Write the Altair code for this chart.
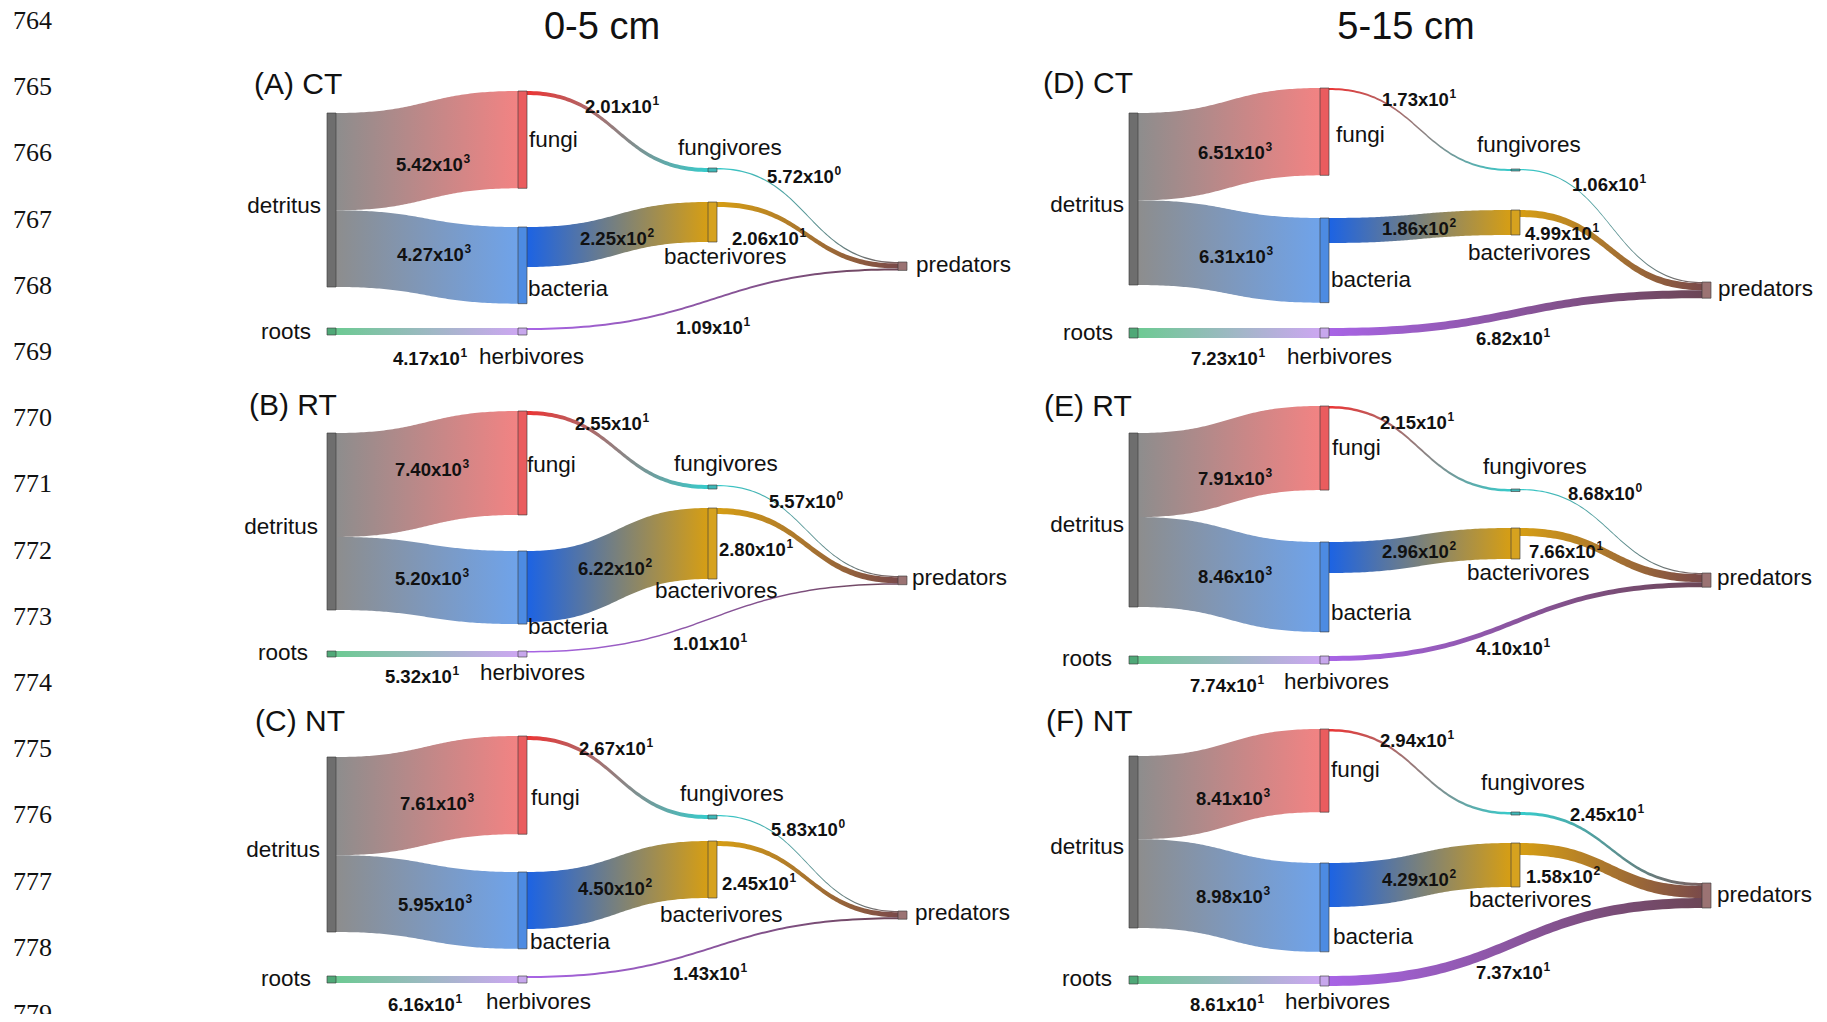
import numpy as np
import pandas as pd
import altair as alt

# ---------------- data ----------------
panel_ids = ["A", "B", "C", "D", "E", "F"]
panel_titles = ["(A) CT", "(B) RT", "(C) NT", "(D) CT", "(E) RT", "(F) NT"]
depth_titles = ["0-5 cm", "5-15 cm"]
line_numbers = [str(n) for n in range(764, 780)]

node_names = ["detritus", "fungi", "bacteria", "fungivores", "bacterivores",
              "predators", "roots", "herbivores"]
link_source = ["detritus", "detritus", "fungi", "bacteria", "fungivores",
               "bacterivores", "roots", "herbivores"]
link_target = ["fungi", "bacteria", "fungivores", "bacterivores", "predators",
               "predators", "herbivores", "predators"]

flows_A = [5.42e3, 4.27e3, 2.01e1, 2.25e2, 5.72e0, 2.06e1, 4.17e1, 1.09e1]
flows_B = [7.40e3, 5.20e3, 2.55e1, 6.22e2, 5.57e0, 2.80e1, 5.32e1, 1.01e1]
flows_C = [7.61e3, 5.95e3, 2.67e1, 4.50e2, 5.83e0, 2.45e1, 6.16e1, 1.43e1]
flows_D = [6.51e3, 6.31e3, 1.73e1, 1.86e2, 1.06e1, 4.99e1, 7.23e1, 6.82e1]
flows_E = [7.91e3, 8.46e3, 2.15e1, 2.96e2, 8.68e0, 7.66e1, 7.74e1, 4.10e1]
flows_F = [8.41e3, 8.98e3, 2.94e1, 4.29e2, 2.45e1, 1.58e2, 8.61e1, 7.37e1]
flows = dict(zip(panel_ids, [flows_A, flows_B, flows_C, flows_D, flows_E, flows_F]))

# ---------------- layout (page pixels of the reference) ----------------
node_column = {"detritus": 0, "roots": 0, "fungi": 1, "bacteria": 1, "herbivores": 1,
               "fungivores": 2, "bacterivores": 2, "predators": 3}
column_x = {"left": [327, 518, 708, 898], "right": [1129, 1320, 1511, 1702]}
panel_side = {"A": "left", "B": "left", "C": "left", "D": "right", "E": "right", "F": "right"}
node_width = 9
detritus_height = {"A": 174, "B": 177, "C": 175, "D": 172, "E": 174, "F": 172}
node_top = {
    "A": {"detritus": 113, "fungi": 91, "bacteria": 227, "fungivores": 168, "bacterivores": 202,
          "predators": 262, "roots": 328, "herbivores": 328},
    "B": {"detritus": 433, "fungi": 411, "bacteria": 551, "fungivores": 485, "bacterivores": 508,
          "predators": 576, "roots": 651, "herbivores": 651},
    "C": {"detritus": 757, "fungi": 736, "bacteria": 872, "fungivores": 815, "bacterivores": 841,
          "predators": 911, "roots": 976, "herbivores": 976},
    "D": {"detritus": 113, "fungi": 88, "bacteria": 218, "fungivores": 169, "bacterivores": 210,
          "predators": 282, "roots": 328, "herbivores": 328},
    "E": {"detritus": 433, "fungi": 406, "bacteria": 542, "fungivores": 489, "bacterivores": 528,
          "predators": 573, "roots": 656, "herbivores": 656},
    "F": {"detritus": 756, "fungi": 729, "bacteria": 863, "fungivores": 812, "bacterivores": 843,
          "predators": 883, "roots": 976, "herbivores": 976},
}
# drawn band thickness of links 3..8 (the figure does not use one linear scale)
minor_band = {
    "A": [4, 40, 1.4, 5, 7, 2],
    "B": [4, 71, 1.2, 6, 6, 1.5],
    "C": [4, 57, 1.2, 5, 7, 2],
    "D": [2, 25, 1.2, 7, 10, 8],
    "E": [2.5, 31, 1.2, 8, 8, 5],
    "F": [2.5, 44, 3, 12, 8, 10],
}
# label anchors
node_label_pos = {
    "A": [(321, 206), (529, 140), (528, 289), (678, 148), (664, 257), (916, 265), (311, 332), (479, 357)],
    "B": [(318, 527), (527, 465), (528, 627), (674, 464), (655, 591), (912, 578), (308, 653), (480, 673)],
    "C": [(320, 850), (531, 798), (530, 942), (680, 794), (660, 915), (915, 913), (311, 979), (486, 1002)],
    "D": [(1124, 205), (1336, 135), (1331, 280), (1477, 145), (1468, 253), (1718, 289), (1113, 333), (1287, 357)],
    "E": [(1124, 525), (1332, 448), (1331, 613), (1483, 467), (1467, 573), (1717, 578), (1112, 659), (1284, 682)],
    "F": [(1124, 847), (1331, 770), (1333, 937), (1481, 783), (1469, 900), (1717, 895), (1112, 979), (1285, 1002)],
}
value_label_pos = {
    "A": [(433, 163), (434, 253), (622, 105), (617, 237), (804, 175), (769, 237), (430, 357), (713, 326)],
    "B": [(432, 468), (432, 577), (612, 422), (615, 567), (806, 500), (756, 548), (422, 675), (710, 642)],
    "C": [(437, 802), (435, 903), (616, 747), (615, 887), (808, 828), (759, 882), (425, 1003), (710, 972)],
    "D": [(1235, 151), (1236, 255), (1419, 98), (1419, 227), (1609, 183), (1562, 232), (1228, 357), (1513, 337)],
    "E": [(1235, 477), (1235, 575), (1417, 421), (1419, 550), (1605, 492), (1566, 550), (1227, 684), (1513, 647)],
    "F": [(1233, 797), (1233, 895), (1417, 739), (1419, 878), (1607, 813), (1563, 875), (1227, 1003), (1513, 971)],
}
panel_title_pos = [(254, 85), (249, 406), (255, 722), (1043, 84), (1044, 407), (1046, 722)]
depth_title_pos = [(602, 28), (1406, 28)]
line_x, line_y0, line_step = 13, 21, 66.2

# ---------------- styles ----------------
node_fill = {"detritus": "#6e6e6e", "fungi": "#ea5c5e", "bacteria": "#4d8be2", "fungivores": "#3eb8b8",
             "bacterivores": "#d6a21f", "predators": "#9b7373", "roots": "#4fa877", "herbivores": "#c7a7ec"}
link_colors = [("#8d8d8d", "#f28383"), ("#8d8d8d", "#6fa3ea"), ("#ec3434", "#36cccc"),
               ("#1c63e4", "#d69e14"), ("#36cccc", "#7a5e5e"), ("#d69e14", "#7a4a4a"),
               ("#6dca93", "#cca7f1"), ("#a864e6", "#6c4656")]
FONT = "Liberation Sans"
VAL_FS, EXP_FS, NODE_FS = 18.5, 12, 22.5
TXT = "#111111"

# ---------------- geometry ----------------
N = 80
tt = np.linspace(0, 1, N)
link_rows, node_rows = [], []
for pid in panel_ids:
    v = flows[pid]
    cx = column_x[panel_side[pid]]
    H = detritus_height[pid]
    thick = [H * v[0] / (v[0] + v[1]), H * v[1] / (v[0] + v[1])] + minor_band[pid]
    out_off = {n: 0.0 for n in node_names}
    in_off = {n: 0.0 for n in node_names}
    for k in range(8):
        s, t = link_source[k], link_target[k]
        x0 = cx[node_column[s]] + node_width
        x1 = cx[node_column[t]]
        ys = node_top[pid][s] + out_off[s]
        yt = node_top[pid][t] + in_off[t]
        out_off[s] += thick[k]
        in_off[t] += thick[k]
        xs = x0 + (x1 - x0) * (1.5 * tt - 1.5 * tt ** 2 + tt ** 3)
        yc = ys + (yt - ys) * (3 * tt ** 2 - 2 * tt ** 3)
        for xi, yi in zip(xs, yc):
            link_rows.append({"lid": f"{pid}{k}", "k": k, "x": xi, "y": yi, "y2": yi + thick[k]})
    for n in node_names:
        h = H if n == "detritus" else max(out_off[n], in_off[n])
        x = cx[node_column[n]]
        top = node_top[pid][n]
        node_rows.append({"x": x, "x2": x + node_width, "y": top, "y2": top + h, "fill": node_fill[n]})

links_df = pd.DataFrame(link_rows)
nodes_df = pd.DataFrame(node_rows)

# text tables
W = {"0": .556, "1": .556, "2": .556, "3": .556, "4": .556, "5": .556, "6": .556,
     "7": .556, "8": .556, "9": .556, ".": .278, "x": .556}
base_rows, exp_rows = [], []
for pid in panel_ids:
    for k, val in enumerate(flows[pid]):
        m, e = f"{val:.2e}".split("e")
        base, ex = f"{m}x10", str(int(e))
        bw = VAL_FS * sum(W[c] for c in base)
        ew = EXP_FS * sum(W[c] for c in ex)
        cxl, cyl = value_label_pos[pid][k]
        left = cxl - (bw + 0.6 + ew) / 2
        base_rows.append({"x": left, "y": cyl + 1.5, "t": base})
        exp_rows.append({"x": left + bw + 0.6, "y": cyl - 4, "t": ex})
base_df = pd.DataFrame(base_rows)
exp_df = pd.DataFrame(exp_rows)

nl_left, nl_right = [], []
for pid in panel_ids:
    for n, (x, y) in zip(node_names, node_label_pos[pid]):
        (nl_right if n in ("detritus", "roots") else nl_left).append({"x": x, "y": y, "t": n})
nl_left_df, nl_right_df = pd.DataFrame(nl_left), pd.DataFrame(nl_right)

ptitle_df = pd.DataFrame([{"x": p[0], "y": p[1], "t": t} for p, t in zip(panel_title_pos, panel_titles)])
dtitle_df = pd.DataFrame([{"x": p[0], "y": p[1], "t": t} for p, t in zip(depth_title_pos, depth_titles)])
lines_df = pd.DataFrame([{"x": line_x, "y": line_y0 + i * line_step, "t": s}
                         for i, s in enumerate(line_numbers)])

# ---------------- chart ----------------
xs = alt.Scale(domain=[8, 1819], nice=False, zero=False)
ys_ = alt.Scale(domain=[8, 1014], nice=False, zero=False, reverse=True)
X = alt.X("x:Q", scale=xs, axis=None)
Y = alt.Y("y:Q", scale=ys_, axis=None)

layers = []
for k in range(8):
    c0, c1 = link_colors[k]
    grad = alt.LinearGradient(gradient="linear",
                              stops=[alt.GradientStop(color=c0, offset=0),
                                     alt.GradientStop(color=c1, offset=1)],
                              x1=0, x2=1, y1=0, y2=0)
    layers.append(
        alt.Chart(links_df).transform_filter(alt.datum.k == k)
        .mark_area(orient="vertical", color=grad, interpolate="linear")
        .encode(x=X, y=Y, y2="y2:Q", detail="lid:N")
    )

layers.append(
    alt.Chart(nodes_df).mark_rect(stroke="#3c3c3c", strokeWidth=0.8, strokeOpacity=0.8)
    .encode(x=X, x2="x2:Q", y=Y, y2="y2:Q", fill=alt.Fill("fill:N", scale=None))
)

def text_layer(df, **kw):
    return alt.Chart(df).mark_text(baseline="middle", color=TXT, **kw).encode(x=X, y=Y, text="t:N")

layers += [
    text_layer(nl_left_df, align="left", font=FONT, fontSize=NODE_FS),
    text_layer(nl_right_df, align="right", font=FONT, fontSize=NODE_FS),
    text_layer(base_df, align="left", font=FONT, fontSize=VAL_FS, fontWeight="bold"),
    text_layer(exp_df, align="left", font=FONT, fontSize=EXP_FS, fontWeight="bold"),
    text_layer(ptitle_df, align="left", font=FONT, fontSize=30),
    text_layer(dtitle_df, align="center", font=FONT, fontSize=38),
    text_layer(lines_df, align="left", font="Liberation Serif", fontSize=26),
]

chart = alt.layer(*layers).properties(
    width=1811, height=1006, padding=0,
    autosize=alt.AutoSizeParams(type="none"), background="white"
).configure_view(stroke=None)

chart.save("out.html", embed_options={"renderer": "svg", "actions": False})
